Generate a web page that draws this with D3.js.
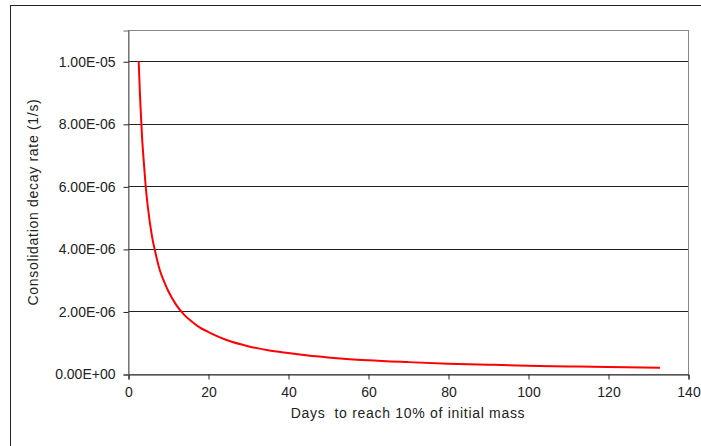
<!doctype html>
<html lang="en">

<head>
    <meta charset="utf-8">
    <title>Consolidation decay rate</title>
    <style>
        body {
            margin: 0px;
            background: #fff;
            font-family: Arial, "Liberation Sans", Helvetica, sans-serif;
        }

        text {
            font-size: 14px;
            fill: #222;
        }

        .axis-title {
            letter-spacing: 0.7px;
        }

        .grid line {
            stroke: #222;
            stroke-width: 1;
        }

        .rate-line {
            fill: none;
            stroke: #ff0000;
            stroke-width: 2;
        }
    </style>
</head>

<body>
</body>
<script src="https://d3js.org/d3.v7.min.js"></script>
<script>
    // days to reach 10% of initial mass
    let days = [2.67, 3, 3.5, 4, 4.5, 5, 6, 7, 8, 9, 10, 12, 14, 16, 18, 20, 25, 30, 35, 40,
        45, 50, 60, 70, 80, 90, 100, 110, 120, 133];
    // consolidation decay rate (1/s)
    let rates = [1.00e-5, 8.9e-6, 7.6e-6, 6.7e-6, 5.9e-6, 5.3e-6, 4.4e-6, 3.8e-6, 3.3e-6, 2.96e-6,
        2.67e-6, 2.22e-6, 1.90e-6, 1.67e-6, 1.48e-6, 1.35e-6, 1.07e-6, 8.9e-7, 7.6e-7, 6.7e-7,
        5.9e-7, 5.3e-7, 4.4e-7, 3.8e-7, 3.3e-7, 2.96e-7, 2.67e-7, 2.42e-7, 2.22e-7, 2.0e-7];
    let xTicks = [0, 20, 40, 60, 80, 100, 120, 140];
    let yTicks = [0, 2e-6, 4e-6, 6e-6, 8e-6, 1e-5];

    const width = 701, height = 446;
    const plot = { left: 128, top: 30, right: 688, bottom: 374 };

    const svg = d3.select('body').append('svg')
        .attr('width', width)
        .attr('height', height);

    // outer chart border (right and bottom run off the page)
    svg.append('rect')
        .attr('x', 10.5).attr('y', 5.5)
        .attr('width', 700).attr('height', 450)
        .attr('fill', 'none')
        .attr('stroke', '#222');

    let x = d3.scaleLinear().domain([0, 140]).range([plot.left, plot.right]);
    let y = d3.scaleLinear().domain([0, 1.1e-5]).range([plot.bottom, plot.top]);

    function sci(v) {
        let s = v.toExponential(2).toUpperCase();
        return s.replace(/E([+-])(\d)$/, 'E$10$2');
    }

    // plot area box
    svg.append('rect')
        .attr('x', plot.left + 0.5).attr('y', plot.top + 0.5)
        .attr('width', plot.right - plot.left).attr('height', plot.bottom - plot.top)
        .attr('fill', '#fff')
        .attr('stroke', '#888');

    // horizontal gridlines
    svg.append('g').attr('class', 'grid')
        .selectAll('line')
        .data(yTicks.filter(d => d > 0))
        .enter().append('line')
        .attr('x1', plot.left).attr('x2', plot.right)
        .attr('y1', d => Math.round(y(d)) + 0.5)
        .attr('y2', d => Math.round(y(d)) + 0.5);

    // axes
    let xAxis = d3.axisBottom(x).tickValues(xTicks).tickSize(5).tickPadding(8).tickFormat(d3.format('d'));
    let gx = svg.append('g')
        .attr('transform', `translate(0.5,${plot.bottom + 0.5})`)
        .call(xAxis);
    gx.select('.domain').attr('stroke', '#222');
    gx.selectAll('.tick line').attr('stroke', '#222');
    gx.selectAll('text').attr('fill', '#222').style('font-size', '14px').style('font-family', 'Arial, "Liberation Sans", sans-serif');

    let yAxis = d3.axisLeft(y).tickValues(yTicks).tickSize(5).tickPadding(8).tickFormat(sci);
    let gy = svg.append('g')
        .attr('transform', `translate(${plot.left + 0.5},0.5)`)
        .call(yAxis);
    gy.select('.domain').attr('stroke', '#666');
    gy.selectAll('.tick line').attr('stroke', '#222');
    gy.selectAll('text').attr('fill', '#222').style('font-size', '14px').style('font-family', 'Arial, "Liberation Sans", sans-serif');

    // data line
    let points = days.map((d, i) => [d, rates[i]]);
    let line = d3.line()
        .x(d => x(d[0]))
        .y(d => y(d[1]))
        .curve(d3.curveMonotoneX);

    svg.append('path')
        .datum(points)
        .attr('class', 'rate-line')
        .attr('d', line);

    // axis titles
    svg.append('text')
        .attr('class', 'axis-title')
        .attr('x', (plot.left + plot.right) / 2)
        .attr('y', 418)
        .attr('text-anchor', 'middle')
        .text('Days  to reach 10% of initial mass')
        .style('white-space', 'pre');

    svg.append('text')
        .attr('class', 'axis-title')
        .attr('transform', `translate(38,${(plot.top + plot.bottom) / 2}) rotate(-90)`)
        .attr('text-anchor', 'middle')
        .text('Consolidation decay rate (1/s)');
</script>

</html>
